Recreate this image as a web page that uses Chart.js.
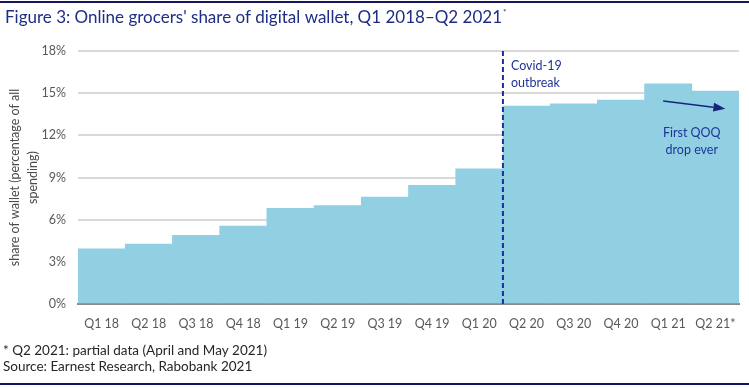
<!DOCTYPE html>
<html>
<head>
<meta charset="utf-8">
<script src="https://cdn.jsdelivr.net/npm/chart.js@4"></script>
<style>
  html, body { margin: 0; padding: 0; background: #ffffff; }
  #wrap { width: 749px; height: 388px; position: relative; }
</style>
</head>
<body>
<div id="wrap"><canvas id="c" width="749" height="388"></canvas></div>
<script>
// ---- data ----
const categories = ['Q1 18', 'Q2 18', 'Q3 18', 'Q4 18', 'Q1 19', 'Q2 19', 'Q3 19', 'Q4 19', 'Q1 20', 'Q2 20', 'Q3 20', 'Q4 20', 'Q1 21', 'Q2 21*'];
const shareOfWallet = [3.93, 4.27, 4.88, 5.54, 6.8, 7.0, 7.61, 8.45, 9.61, 14.08, 14.24, 14.5, 15.66, 15.15];
const yTickValues = [0, 3, 6, 9, 12, 15, 18];
const titleText = "Figure 3: Online grocers' share of digital wallet, Q1 2018\u2013Q2 2021";
const yAxisTitle = ['share of wallet (percentage of all', 'spending)'];
const footnotes = ['* Q2 2021: partial data (April and May 2021)', 'Source: Earnest Research, Rabobank 2021'];
const covidIndex = 9;          // first category after the outbreak
const covidLabel = ['Covid-19', 'outbreak'];
const dropLabel = ['First QOQ', 'drop ever'];

const FONT = 'Lato, "Open Sans", sans-serif';

const decor = {
  id: 'decor',
  beforeDraw(chart) {
    const ctx = chart.ctx;
    ctx.save();
    ctx.fillStyle = '#ffffff';
    ctx.fillRect(0, 0, chart.width, chart.height);
    // frame lines
    ctx.fillStyle = '#16165c';
    ctx.fillRect(0, 1, chart.width, 2);
    ctx.fillRect(0, 383, chart.width, 2);
    // title
    ctx.fillStyle = '#1d2e84';
    ctx.font = '17px ' + FONT;
    ctx.textBaseline = 'middle';
    ctx.textAlign = 'left';
    ctx.fillText(titleText, 5, 18);
    const tw = ctx.measureText(titleText).width;
    ctx.font = '8px ' + FONT;
    ctx.fillText('*', 5 + tw + 1, 12);
    // footnotes
    ctx.fillStyle = '#262626';
    ctx.font = '13.5px ' + FONT;
    ctx.fillText(footnotes[0], 3, 351);
    ctx.fillText(footnotes[1], 3, 367);
    // y axis title
    const ca = chart.chartArea;
    ctx.fillStyle = '#4a4a4a';
    ctx.font = '12.5px ' + FONT;
    ctx.textAlign = 'center';
    ctx.translate(24, (ca.top + ca.bottom) / 2);
    ctx.rotate(-Math.PI / 2);
    ctx.fillText(yAxisTitle[0], 0, -9);
    ctx.fillText(yAxisTitle[1], 0, 9);
    ctx.restore();
  },
  afterDatasetsDraw(chart) {
    const ctx = chart.ctx;
    const xs = chart.scales.x, ys = chart.scales.y;
    const ca = chart.chartArea;
    ctx.save();
    // dashed covid line between categories
    const xd = (xs.getPixelForValue(covidIndex - 1) + xs.getPixelForValue(covidIndex)) / 2;
    ctx.strokeStyle = '#1a2ea0';
    ctx.lineWidth = 2;
    ctx.setLineDash([5, 3]);
    ctx.beginPath();
    ctx.moveTo(xd, ca.top);
    ctx.lineTo(xd, ca.bottom);
    ctx.stroke();
    ctx.setLineDash([]);
    // covid label
    ctx.fillStyle = '#1f3596';
    ctx.font = '12.5px ' + FONT;
    ctx.textBaseline = 'middle';
    ctx.textAlign = 'left';
    ctx.fillText(covidLabel[0], xd + 8, ys.getPixelForValue(16.9));
    ctx.fillText(covidLabel[1], xd + 8, ys.getPixelForValue(15.7));
    // drop arrow
    const n = categories.length;
    const xa = xs.getPixelForValue(n - 2) - 5;
    const xb = xs.getPixelForValue(n - 1) + 10;
    const ya = ys.getPixelForValue(14.45);
    const yb = ys.getPixelForValue(13.9);
    ctx.strokeStyle = '#1a237e';
    ctx.fillStyle = '#1a237e';
    ctx.lineWidth = 1.5;
    const ang = Math.atan2(yb - ya, xb - xa);
    const hl = 12, hw = 4.5;
    const bx = xb - hl * Math.cos(ang), by = yb - hl * Math.sin(ang);
    ctx.beginPath();
    ctx.moveTo(xa, ya);
    ctx.lineTo(bx, by);
    ctx.stroke();
    ctx.beginPath();
    ctx.moveTo(xb, yb);
    ctx.lineTo(bx + hw * Math.sin(ang), by - hw * Math.cos(ang));
    ctx.lineTo(bx - hw * Math.sin(ang), by + hw * Math.cos(ang));
    ctx.closePath();
    ctx.fill();
    // drop label
    const xc = (xs.getPixelForValue(n - 2) + xs.getPixelForValue(n - 1)) / 2;
    ctx.fillStyle = '#1f3596';
    ctx.textAlign = 'center';
    ctx.fillText(dropLabel[0], xc, ys.getPixelForValue(12.2));
    ctx.fillText(dropLabel[1], xc, ys.getPixelForValue(10.95));
    ctx.restore();
  }
};

new Chart(document.getElementById('c'), {
  type: 'bar',
  data: {
    labels: categories,
    datasets: [{
      data: shareOfWallet,
      backgroundColor: '#91cfe2',
      borderWidth: 0,
      barPercentage: 1.0,
      categoryPercentage: 1.0
    }]
  },
  options: {
    responsive: false,
    animation: false,
    devicePixelRatio: 1,
    layout: { padding: { top: 51, right: 10, left: 0, bottom: 0 } },
    plugins: { legend: { display: false }, title: { display: false }, tooltip: { enabled: false } },
    scales: {
      x: {
        grid: { display: false, drawTicks: false },
        border: { display: true, color: '#8a8a8a', width: 2 },
        ticks: { color: '#595959', font: { family: FONT, size: 12.5 }, padding: 12, maxRotation: 0, autoSkip: false },
        afterFit(scale) { scale.height = 84; }
      },
      y: {
        min: 0, max: 18,
        afterBuildTicks(scale) { scale.ticks = yTickValues.map(v => ({ value: v })); },
        grid: { color: '#d9d9d9', lineWidth: 2, drawTicks: false },
        border: { display: false },
        ticks: { color: '#595959', font: { family: FONT, size: 12.5 }, padding: 12, callback: v => v + '%' },
        afterFit(scale) { scale.width = 78; }
      }
    }
  },
  plugins: [decor]
});
</script>
</body>
</html>
